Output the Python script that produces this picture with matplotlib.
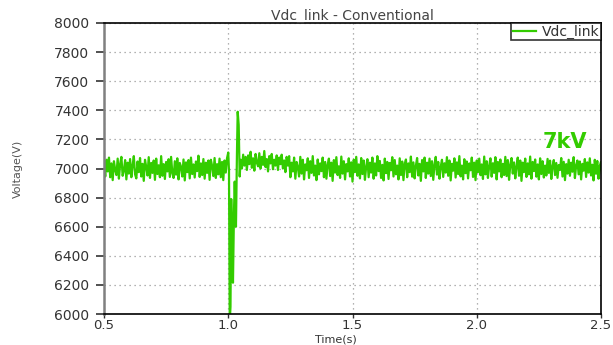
import numpy as np
import matplotlib
matplotlib.use('Agg')
import matplotlib.pyplot as plt
from matplotlib.ticker import MultipleLocator, FormatStrFormatter

plt.rcParams['font.family'] = ['DejaVu Sans']

# DC link voltage, deviation from nominal (V), 5 ms sampling
VDC_NOMINAL = 7000
DT = 0.005

pre_dev = [25, -55, 60, -20, 75, -60, 35, -80, 50, -10, -45, 68, -70, 30, 80, -50, -15, 58, -75, 40,
           -35, 65, -60, 20, 85, -40, -68, 48, -25, 72, -55, 32, -85, 60, 10, -48, 78, -65, 38, -30,
           55, -78, 68, -38, 22, -60, 85, -50, 30, -72, 45, -20, 64, -58, 80, -32, -65, 50, -42, 70,
           -75, 38, 12, -55, 62, -82, 42, -25, 58, -68, 75, -38, 28, -62, 48, -18, 88, -58, 35, -45,
           65, -70, 40, -30, 55, -78, 60, 18, -52, 72, -65, 30, -40, 68, -60, 45, -80, 55, -28, 70]

# fault transient around t = 1.0 s
trans_t = [1.000, 1.003, 1.006, 1.009, 1.012, 1.015, 1.019, 1.023, 1.026, 1.031,
           1.035, 1.038, 1.042, 1.046]
trans_v = [7110, 6980, 5950, 6050, 6790, 6500, 6215, 6700, 6910, 6600,
           7100, 7390, 7300, 6945]

post_dev = [60, 0, 95, 20, 80, -10, 90, 30, 115, 5, 70, -15, 100, 40, 15, 105, 0, 80, 25, 120,
            10, 65, -20, 85, 35, 100, -5, 60, 20, 90, -10, 75, 30, 95, 0, 55, -25, 80, 20, 85,
            -60, 40, -20, 75, -70, 45, 10, -55, 80, -35, 60, -75, 28, -12, 70, -65, 50, -30, 85, -48,
            20, -80, 62, -40, 35, -18, 75, -60, 45, -70, 25, 68, -52, 40, -85, 58, -28, 78, -45, 15,
            -65, 82, -35, 50, -75, 30, -20, 70, -55, 42, -90, 60, -25, 80, -50, 28, -68, 72, -38, 55,
            -78, 12, 64, -60, 40, -28, 75, -70, 35, -48, 85, -18, 52, -65, 25, -82, 68, -32, 45, -72,
            38, -12, 78, -55, 58, -40, 20, -75, 70, -45, 48, -80, 30, 62, -60, 35, -25, 82, -56, 42,
            -68, 18, 72, -48, 32, -85, 58, -20, 75, -65, 40, -35, 68, -52, 50, -78, 25, 80, -42, 45,
            -70, 12, 60, -58, 36, -28, 78, -50, 55, -82, 32, -15, 70, -62, 42, -38, 85, -54, 20, -75,
            64, -32, 48, -68, 35, -12, 75, -58, 40, -80, 55, -25, 68, -46, 28, -72, 82, -40, 50, -65,
            18, 70, -56, 36, -30, 78, -75, 45, -20, 62, -60, 32, -45, 80, -52, 58, -78, 25, 72, -35,
            42, -68, 12, 75, -50, 55, -85, 40, -25, 68, -58, 35, -40, 82, -70, 45, -18, 62, -56, 28,
            -75, 70, -38, 50, -62, 20, -48, 66, -30, 54, -72, 15, 58, -45, 38, -64, 24, -10, 72, -55,
            46, -80, 30, -35, 60, -50, 40, -22, 78, -66, 20, 55, -40, 48, -75, 32, -15, 65, -58, 42,
            -28, 70, -48, 26, -82, 60, -36, 52, -70, 18, 45, -62, 38, -20, 66, -54, 30, -72, 48, -10]

t_pre = 0.5 + DT * np.arange(len(pre_dev))
t_post = 1.05 + DT * np.arange(len(post_dev))
t = np.concatenate([t_pre, trans_t, t_post])
v = np.concatenate([VDC_NOMINAL + np.array(pre_dev), trans_v, VDC_NOMINAL + np.array(post_dev)])

green = '#33cc00'

fig = plt.figure(figsize=(6.13, 3.45), dpi=100)
ax = fig.add_axes([104 / 613, 1 - 314 / 345, 497 / 613, 291 / 345])
ax.plot(t, v, color=green, lw=1.6, label='Vdc_link')

ax.set_xlim(0.5, 2.5)
ax.set_ylim(6000, 8000)
ax.xaxis.set_major_locator(MultipleLocator(0.5))
ax.yaxis.set_major_locator(MultipleLocator(200))
ax.xaxis.set_major_formatter(FormatStrFormatter('%.1f'))
ax.grid(True, color='#999999', linestyle=(0, (1, 3)), linewidth=0.9)

ax.tick_params(axis='y', direction='out', length=5.5, width=1.2, pad=5, labelsize=10,
               colors='#333333', labelcolor='#333333')
ax.tick_params(axis='x', direction='out', length=3, width=1.0, pad=0.5, labelsize=9.5,
               colors='#333333', labelcolor='#333333')

for side in ['top', 'right', 'bottom']:
    ax.spines[side].set_color('black')
    ax.spines[side].set_linewidth(1.2)
ax.spines['left'].set_color('#808080')
ax.spines['left'].set_linewidth(1.8)

ax.set_title('Vdc_link - Conventional', fontsize=10, color='#444444', pad=2)
ax.set_xlabel('Time(s)', fontsize=8, color='#333333', va='bottom')
ax.xaxis.set_label_coords((336 - 104) / 497, -(344.5 - 314) / 291)
ax.set_ylabel('Voltage(V)', fontsize=8, color='#555555', va='center')
ax.yaxis.set_label_coords(-0.173, 0.5)

ax.text(2.355, 7182, '7kV', color=green, fontsize=15, fontweight='bold', ha='center', va='center')

leg = ax.legend(loc='upper right', fontsize=10, frameon=True, fancybox=False, borderpad=0.1,
                borderaxespad=0, handlelength=1.7, handletextpad=0.4, labelcolor='#333333')
leg.get_frame().set_edgecolor('black')
leg.get_frame().set_linewidth(1.2)

fig.savefig('out.png', dpi=100)
